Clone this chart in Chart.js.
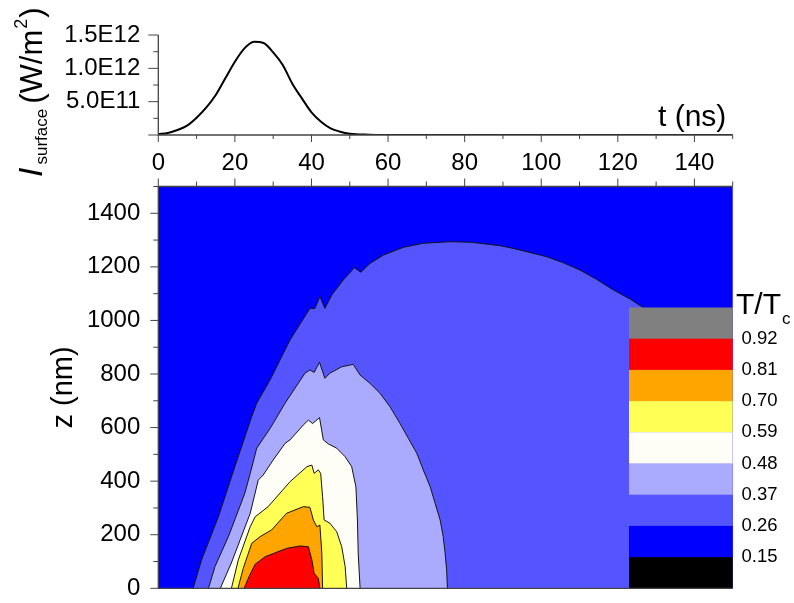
<!DOCTYPE html>
<html>
<head>
<meta charset="utf-8">
<script src="https://cdn.jsdelivr.net/npm/chart.js@4.4.0/dist/chart.umd.min.js"></script>
<style>
  html, body { margin: 0; padding: 0; background: #fff; }
  #wrap { position: relative; width: 794px; height: 603px; overflow: hidden; }
  canvas { position: absolute; left: 0; }
  #pulse { top: 0; }
  #map { top: 165px; }
</style>
</head>
<body>
<div id="wrap">
  <canvas id="map" width="794" height="438"></canvas>
  <canvas id="pulse" width="794" height="185"></canvas>
</div>
<script>
// surface intensity of the laser pulse, W/m^2
const pulseT = [0, 2.5, 5, 7.5, 10, 12.5, 15, 17.5, 20, 22.5, 25, 27.5, 30, 32.5, 35, 37.5, 40, 42.5, 45, 47.5, 50, 55, 60, 70, 80, 90, 100, 110, 120, 130, 140, 150];
const pulseI = [0.012e12, 0.03e12, 0.075e12, 0.14e12, 0.26e12, 0.41e12, 0.60e12, 0.85e12, 1.10e12, 1.30e12, 1.40e12, 1.38e12, 1.24e12, 1.05e12, 0.77e12, 0.55e12, 0.34e12, 0.20e12, 0.10e12, 0.05e12, 0.02e12, 0.005e12, 0.001e12, 0, 0, 0, 0, 0, 0, 0, 0, 0];

// isotherms T/Tc in the (t, z) plane: t in ns, z in nm
const iso026T = [9.1, 11.3, 15.7, 20.0, 24.4, 25.7, 29.2, 34.4, 39.6, 40.9, 42.2, 43.5, 45.3, 48.3, 51.2, 52.9, 55.3, 58.8, 64.0, 69.2, 76.2, 81.4, 84.0, 89.2, 92.7, 101.4, 105.8, 110.1, 114.5, 118.8, 123.2, 126.7, 136.3, 150];
const iso026Z = [0, 106, 267, 454, 641, 691, 778, 927, 1045, 1045, 1089, 1045, 1095, 1151, 1197, 1180, 1213, 1244, 1273, 1288, 1294, 1292, 1288, 1279, 1269, 1238, 1215, 1188, 1153, 1114, 1080, 1047, 927, 628];
const iso037T = [13.1, 14.8, 18.3, 22.6, 24.0, 25.7, 29.2, 33.1, 38.3, 39.6, 40.7, 42.1, 43.5, 44.8, 47.9, 50.9, 52.7, 55.3, 57.9, 60.5, 63.1, 65.3, 67.5, 69.2, 71.0, 72.3, 73.6, 74.4, 74.9, 75.3, 75.5];
const iso037Z = [0, 81, 193, 355, 429, 523, 597, 691, 803, 815, 806, 844, 784, 803, 827, 836, 796, 765, 728, 678, 616, 560, 504, 442, 379, 317, 255, 193, 131, 68, 0];
const iso048T = [16.2, 19.2, 24.0, 26.1, 27.4, 30.0, 33.1, 34.4, 37.9, 39.2, 40.3, 42.1, 43.1, 44.4, 46.6, 48.8, 50.5, 51.6, 52.0, 52.2, 52.7];
const iso048Z = [0, 99, 280, 404, 423, 479, 541, 554, 610, 628, 615, 637, 554, 539, 523, 491, 454, 379, 255, 131, 0];
const iso059T = [19.1, 20.9, 24.0, 25.3, 28.7, 34.4, 38.8, 40.1, 40.7, 41.8, 42.4, 42.9, 43.3, 44.8, 46.6, 47.9, 48.8, 49.2];
const iso059Z = [0, 106, 230, 267, 305, 398, 454, 460, 429, 442, 429, 342, 255, 243, 211, 155, 81, 0];
const iso070T = [20.8, 22.2, 24.4, 26.6, 29.6, 33.5, 37.9, 39.6, 40.5, 41.4, 42.2, 42.7, 42.9];
const iso070Z = [0, 75, 168, 193, 218, 280, 305, 302, 255, 230, 236, 131, 0];
const iso081T = [22.4, 23.9, 25.3, 27.9, 33.5, 37.0, 39.2, 40.1, 40.7, 41.8, 42.2];
const iso081Z = [0, 50, 90, 118, 149, 158, 155, 106, 56, 37, 0];

const levelColors = ['#5555FF', '#AAAAFF', '#FEFEF6', '#FFFF55', '#FFA500', '#FF0000'];

// colour key, top to bottom, and the level values between the bands
const keyColors = ['#808080', '#FF0000', '#FFA500', '#FFFF55', '#FEFEF6', '#AAAAFF', '#5555FF', '#0000FF', '#000000'];
const keyLabels = ['0.92', '0.81', '0.70', '0.59', '0.48', '0.37', '0.26', '0.15'];

// tick values and labels
const tMajor = [0, 20, 40, 60, 80, 100, 120, 140];
const tMinor = [10, 30, 50, 70, 90, 110, 130, 150];
const iMajor = [0, 5e11, 1e12, 1.5e12];
const iMinor = [2.5e11, 7.5e11, 1.25e12];
const iLabels = ['', '5.0E11', '1.0E12', '1.5E12'];
const zMajor = [0, 200, 400, 600, 800, 1000, 1200, 1400];
const zMinor = [100, 300, 500, 700, 900, 1100, 1300, 1500];

const FAMILY = '"Liberation Sans", Arial, sans-serif';
const AXIS = '#444';
Chart.defaults.font.family = FAMILY;
Chart.defaults.color = '#000';

function ticksX(ctx, scale, values, yPix, len) {
  ctx.beginPath();
  values.forEach(v => {
    const px = scale.getPixelForValue(v);
    ctx.moveTo(px, yPix);
    ctx.lineTo(px, yPix + len);
  });
  ctx.stroke();
}
function ticksY(ctx, scale, values, xPix, len) {
  ctx.beginPath();
  values.forEach(v => {
    const py = scale.getPixelForValue(v);
    ctx.moveTo(xPix, py);
    ctx.lineTo(xPix + len, py);
  });
  ctx.stroke();
}
// keep the plot area where the layout padding puts it
function noLabelPadding(s) {
  s.paddingTop = 0; s.paddingBottom = 0; s.paddingLeft = 0; s.paddingRight = 0;
}

// ---------- top panel: pulse ----------
const pulseDecor = {
  id: 'pulseDecor',
  afterDraw(chart) {
    const { ctx, scales: { x, y } } = chart;
    const a = chart.chartArea;
    ctx.save();
    ctx.strokeStyle = AXIS;
    ctx.lineWidth = 1.3;
    ctx.beginPath();
    ctx.moveTo(a.left, a.top);
    ctx.lineTo(a.left, a.bottom);
    ctx.lineTo(a.right, a.bottom);
    ctx.stroke();
    ctx.lineWidth = 1;
    ticksY(ctx, y, iMajor, a.left, -10);
    ticksY(ctx, y, iMinor, a.left, -5);
    ticksX(ctx, x, tMajor, a.bottom, 7);
    ticksX(ctx, x, tMinor, a.bottom, 4);

    ctx.fillStyle = '#000';
    ctx.textAlign = 'left';
    ctx.textBaseline = 'alphabetic';
    ctx.font = '30px ' + FAMILY;
    ctx.fillText('t (ns)', 658, 126);

    // rotated axis title: I_surface (W/m^2)
    ctx.translate(42, 177);
    ctx.rotate(-Math.PI / 2);
    let u = 0;
    ctx.font = 'italic 34px ' + FAMILY;
    ctx.fillText('I', u, 0);
    u += ctx.measureText('I').width + 3;
    ctx.font = '17px ' + FAMILY;
    ctx.fillText('surface', u, 5);
    u += ctx.measureText('surface').width + 5;
    ctx.font = '31px ' + FAMILY;
    ctx.fillText('(W/m', u, 0);
    u += ctx.measureText('(W/m').width + 1;
    ctx.font = '18px ' + FAMILY;
    ctx.fillText('2', u, -15);
    u += ctx.measureText('2').width + 1;
    ctx.font = '31px ' + FAMILY;
    ctx.fillText(')', u, 0);
    ctx.restore();
  }
};

new Chart(document.getElementById('pulse'), {
  type: 'line',
  data: {
    datasets: [{
      data: pulseT.map((t, i) => ({ x: t, y: pulseI[i] })),
      borderColor: '#000',
      borderWidth: 2,
      pointRadius: 0,
      fill: false,
      cubicInterpolationMode: 'monotone'
    }]
  },
  options: {
    responsive: false,
    animation: false,
    devicePixelRatio: 1,
    layout: { padding: { left: 0, right: 61.3, top: 35, bottom: 0 } },
    plugins: { legend: { display: false }, tooltip: { enabled: false } },
    scales: {
      x: {
        type: 'linear', min: 0, max: 150,
        grid: { display: false, drawTicks: false },
        border: { display: false },
        ticks: {
          autoSkip: false, maxRotation: 0, padding: 14,
          font: { size: 24, lineHeight: 1.2 },
          callback: v => String(v)
        },
        afterBuildTicks: s => { s.ticks = tMajor.map(v => ({ value: v })); },
        afterFit: s => { s.height = 50; noLabelPadding(s); }
      },
      y: {
        min: 0, max: 1.5e12,
        grid: { display: false, drawTicks: false },
        border: { display: false },
        ticks: {
          padding: 18,
          font: { size: 24, lineHeight: 1 },
          callback: v => { const i = iMajor.indexOf(v); return i >= 0 ? iLabels[i] : ''; }
        },
        afterBuildTicks: s => { s.ticks = iMajor.map(v => ({ value: v })); },
        afterFit: s => { s.width = 158.3; noLabelPadding(s); }
      }
    }
  },
  plugins: [pulseDecor]
});

// ---------- bottom panel: temperature map ----------
const isoT = [iso026T, iso037T, iso048T, iso059T, iso070T, iso081T];
const isoZ = [iso026Z, iso037Z, iso048Z, iso059Z, iso070Z, iso081Z];

const mapDecor = {
  id: 'mapDecor',
  beforeDatasetsDraw(chart) {
    const { ctx, chartArea: a } = chart;
    ctx.save();
    ctx.fillStyle = '#0000FF';
    ctx.fillRect(a.left, a.top, a.right - a.left, a.bottom - a.top);
    ctx.restore();
  },
  afterDatasetsDraw(chart) {
    const { ctx, chartArea: a } = chart;
    const bandH = 31.2;
    const x0 = 629;
    const top = a.bottom - bandH * keyColors.length;
    ctx.save();
    keyColors.forEach((c, i) => {
      ctx.fillStyle = c;
      ctx.fillRect(x0, top + i * bandH, a.right - x0, bandH + 0.3);
    });
    ctx.fillStyle = '#000';
    ctx.textAlign = 'left';
    ctx.textBaseline = 'middle';
    ctx.font = '18.5px ' + FAMILY;
    keyLabels.forEach((s, i) => ctx.fillText(s, 741.5, top + (i + 1) * bandH));
    ctx.textBaseline = 'alphabetic';
    ctx.font = '30px ' + FAMILY;
    ctx.fillText('T/T', 736, top + 6.5);
    const w = ctx.measureText('T/T').width;
    ctx.font = '17px ' + FAMILY;
    ctx.fillText('c', 736 + w + 1, top + 16.5);
    ctx.restore();
  },
  afterDraw(chart) {
    const { ctx, scales: { x, y }, chartArea: a } = chart;
    ctx.save();
    ctx.strokeStyle = AXIS;
    ctx.lineWidth = 1.3;
    ctx.beginPath();
    ctx.moveTo(a.right, a.top);
    ctx.lineTo(a.left, a.top);
    ctx.lineTo(a.left, a.bottom);
    ctx.lineTo(a.right, a.bottom);
    ctx.stroke();
    ctx.lineWidth = 1;
    ticksY(ctx, y, zMajor, a.left, -8);
    ticksY(ctx, y, zMinor, a.left, -5);
    ticksX(ctx, x, tMajor, a.top, -8);
    ticksX(ctx, x, tMinor, a.top, -5);

    ctx.fillStyle = '#000';
    ctx.font = '29px ' + FAMILY;
    ctx.textAlign = 'center';
    ctx.textBaseline = 'alphabetic';
    ctx.translate(72, (a.top + a.bottom) / 2);
    ctx.rotate(-Math.PI / 2);
    ctx.fillText('z (nm)', 0, 0);
    ctx.restore();
  }
};

new Chart(document.getElementById('map'), {
  type: 'line',
  data: {
    datasets: isoT.map((ts, k) => ({
      data: ts.map((t, i) => ({ x: t, y: isoZ[k][i] })),
      borderColor: '#151515',
      borderWidth: 1,
      backgroundColor: levelColors[k],
      fill: 'origin',
      pointRadius: 0,
      tension: 0,
      order: isoT.length - k
    }))
  },
  options: {
    responsive: false,
    animation: false,
    devicePixelRatio: 1,
    layout: { padding: { left: 0, right: 61.3, top: 21.5, bottom: 0 } },
    plugins: { legend: { display: false }, tooltip: { enabled: false } },
    scales: {
      x: {
        type: 'linear', min: 0, max: 150,
        grid: { display: false, drawTicks: false },
        border: { display: false },
        ticks: { display: false },
        afterFit: s => { s.height = 14.7; noLabelPadding(s); }
      },
      y: {
        min: 0, max: 1500,
        grid: { display: false, drawTicks: false },
        border: { display: false },
        ticks: {
          padding: 18,
          font: { size: 24, lineHeight: 1 },
          callback: v => String(v)
        },
        afterBuildTicks: s => { s.ticks = zMajor.map(v => ({ value: v })); },
        afterFit: s => { s.width = 158.3; noLabelPadding(s); }
      }
    }
  },
  plugins: [mapDecor]
});
</script>
</body>
</html>
